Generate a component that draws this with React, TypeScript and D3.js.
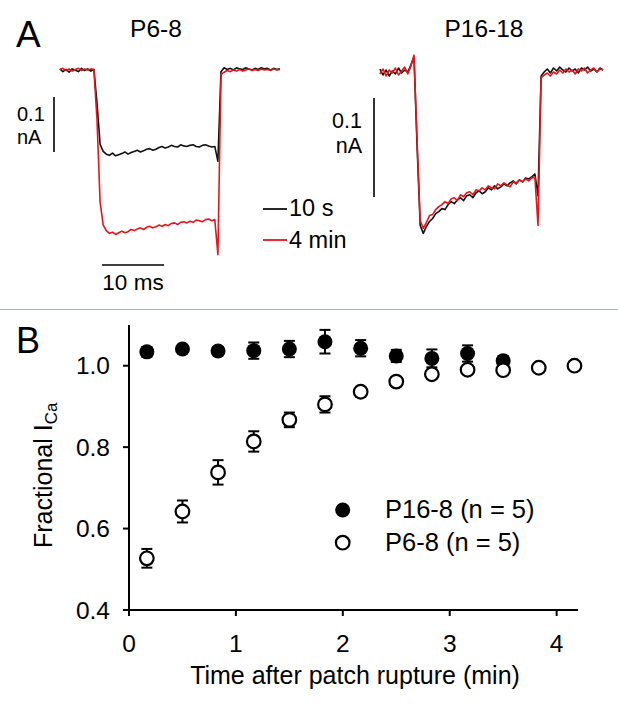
import React from "react";
import * as d3 from "d3";

// ---------- Panel A: current traces (nA), sampled every 0.5 ms ----------
const DT = 0.5;
const leftStart = -6;
const leftBlack = [
  0.002, -0.003, 0.001, -0.004, 0.002, 0.0, -0.003, 0.003, -0.001, 0.002, -0.002, 0.001,
  -0.06, -0.135,
  -0.148, -0.153, -0.155, -0.151, -0.156, -0.154, -0.152, -0.149, -0.153, -0.15, -0.148, -0.146,
  -0.149, -0.147, -0.144, -0.143, -0.146, -0.144, -0.141, -0.139, -0.142, -0.14, -0.137, -0.139,
  -0.14, -0.136, -0.138, -0.139, -0.137, -0.136, -0.139, -0.14, -0.137, -0.136, -0.138, -0.14, -0.139,
  -0.166, -0.003,
  0.004, 0.001, 0.003, 0.0, 0.004, 0.002, 0.001, 0.004, 0.002, 0.0, 0.003, 0.001, 0.004, 0.002,
  0.003, 0.0, 0.003, 0.001, 0.002,
];
const leftRed = [
  0.001, 0.003, -0.001, 0.002, -0.002, 0.001, 0.003, -0.001, 0.002, 0.0, 0.002, 0.001,
  -0.09, -0.24,
  -0.282, -0.292, -0.297, -0.295, -0.299, -0.296, -0.293, -0.296, -0.294, -0.29, -0.292, -0.289,
  -0.287, -0.29, -0.286, -0.284, -0.287, -0.285, -0.282, -0.284, -0.281, -0.283, -0.279, -0.278,
  -0.281, -0.277, -0.276, -0.278, -0.275, -0.277, -0.273, -0.274, -0.276, -0.272, -0.271, -0.274, -0.272,
  -0.336, -0.008,
  -0.004, -0.001, -0.003, 0.0, -0.002, 0.001, -0.002, 0.0, 0.002, -0.001, 0.001, -0.001, 0.002,
  0.0, 0.001, -0.001, 0.002, 0.0, 0.001,
];
const rightStart = -5.5;
const rightBlack = [
  0.003, -0.003, 0.002, -0.004, 0.001, -0.002, 0.004, -0.001, 0.002, 0.0, 0.007,
  0.015, -0.075, -0.155, -0.163,
  -0.156, -0.151, -0.148, -0.143, -0.141, -0.138, -0.139, -0.134, -0.131, -0.133, -0.129, -0.127,
  -0.13, -0.125, -0.124, -0.127, -0.122, -0.12, -0.123, -0.121, -0.117, -0.119, -0.115, -0.118,
  -0.116, -0.113, -0.115, -0.112, -0.11, -0.113, -0.109, -0.111, -0.107, -0.108, -0.106, -0.103,
  -0.125, -0.004,
  0.0, 0.003, -0.001, 0.004, 0.001, 0.005, 0.002, 0.0, 0.004, 0.001, 0.003, -0.001, 0.004, 0.002,
  0.005, 0.001, 0.003, 0.0, 0.004, 0.002,
];
const rightRed = [
  -0.002, 0.003, -0.004, 0.002, -0.001, 0.004, -0.003, 0.001, 0.005, -0.002, 0.006,
  0.017, -0.07, -0.15, -0.158,
  -0.152, -0.145, -0.144, -0.139, -0.136, -0.134, -0.131, -0.133, -0.128, -0.127, -0.13, -0.124,
  -0.126, -0.122, -0.121, -0.124, -0.119, -0.12, -0.117, -0.119, -0.115, -0.117, -0.118, -0.113,
  -0.115, -0.112, -0.114, -0.116, -0.111, -0.112, -0.109, -0.111, -0.108, -0.11, -0.107, -0.106,
  -0.155, -0.006,
  -0.003, -0.001, -0.004, 0.0, -0.002, 0.002, -0.001, 0.003, 0.0, 0.002, -0.002, 0.003, 0.001,
  0.004, -0.001, 0.002, 0.004, 0.0, 0.003, 0.002,
];
const panelTitles = ["P6-8", "P16-18"];
const traceLegend = ["10 s", "4 min"];
const traceColors = ["#111111", "#e8141c"];

// ---------- Panel B: fractional ICa vs time ----------
const p16Time = [0.167, 0.5, 0.833, 1.167, 1.5, 1.833, 2.167, 2.5, 2.833, 3.167, 3.5];
const p16Mean = [1.034, 1.041, 1.036, 1.037, 1.041, 1.059, 1.043, 1.024, 1.018, 1.03, 1.012];
const p16Err = [0.012, 0.01, 0.01, 0.02, 0.02, 0.029, 0.02, 0.015, 0.022, 0.02, 0.012];
const p6Time = [0.167, 0.5, 0.833, 1.167, 1.5, 1.833, 2.167, 2.5, 2.833, 3.167, 3.5, 3.833, 4.167];
const p6Mean = [0.527, 0.642, 0.738, 0.814, 0.867, 0.905, 0.936, 0.961, 0.979, 0.99, 0.989, 0.995, 1.0];
const p6Err = [0.023, 0.027, 0.03, 0.025, 0.018, 0.02, 0.012, 0.01, 0.01, 0.008, 0.008, 0.006, 0.005];
const xTicks = [0, 1, 2, 3, 4];
const yTicks = [0.4, 0.6, 0.8, 1.0];
const seriesLabels = ["P16-8 (n = 5)", "P6-8 (n = 5)"];

const FONT = "'Liberation Sans', Arial, Helvetica, sans-serif";

export default function App() {
  const W = 618;
  const H = 707;

  // Panel A scales
  const xL = d3.scaleLinear().domain([0, 10]).range([97, 159]);
  const yL = d3.scaleLinear().domain([0, -0.1]).range([70, 125]);
  const xR = d3.scaleLinear().domain([0, 10]).range([414, 476]);
  const yR = d3.scaleLinear().domain([0, -0.1]).range([72, 171]);

  const mkLine = (xs: d3.ScaleLinear<number, number>, ys: d3.ScaleLinear<number, number>, t0: number) =>
    d3
      .line<number>()
      .x((_, i) => xs(t0 + i * DT))
      .y((v) => ys(v));

  const lineL = mkLine(xL, yL, leftStart);
  const lineR = mkLine(xR, yR, rightStart);

  // Panel B scales
  const x = d3.scaleLinear().domain([0, 4.2]).range([129, 578]);
  const y = d3.scaleLinear().domain([0.4, 1.1]).range([610, 325]);

  const capW = 5.5;
  const errBar = (t: number, m: number, e: number, key: string) => (
    <g key={key} stroke="#000" strokeWidth={2} fill="none">
      <line x1={x(t)} x2={x(t)} y1={y(m + e)} y2={y(m - e)} />
      <line x1={x(t) - capW} x2={x(t) + capW} y1={y(m + e)} y2={y(m + e)} />
      <line x1={x(t) - capW} x2={x(t) + capW} y1={y(m - e)} y2={y(m - e)} />
    </g>
  );

  return (
    <svg
      width={W}
      height={H}
      style={{ position: "absolute", left: 0, top: 0, background: "#fff" }}
      fontFamily={FONT}
    >
      <rect x={0} y={0} width={W} height={H} fill="#fff" />

      {/* ---------------- Panel A ---------------- */}
      <text x={16} y={47} fontSize={37}>A</text>
      <text x={156} y={37} fontSize={24.5} textAnchor="middle">{panelTitles[0]}</text>
      <text x={484} y={37} fontSize={24.5} textAnchor="middle">{panelTitles[1]}</text>

      <path d={lineL(leftBlack) || ""} fill="none" stroke={traceColors[0]} strokeWidth={1.6} strokeLinejoin="round" />
      <path d={lineL(leftRed) || ""} fill="none" stroke={traceColors[1]} strokeWidth={1.6} strokeLinejoin="round" />
      <path d={lineR(rightBlack) || ""} fill="none" stroke={traceColors[0]} strokeWidth={1.6} strokeLinejoin="round" />
      <path d={lineR(rightRed) || ""} fill="none" stroke={traceColors[1]} strokeWidth={1.6} strokeLinejoin="round" />

      {/* scale bars */}
      <line x1={54} x2={54} y1={97} y2={97 + (yL(-0.1) - yL(0))} stroke="#000" strokeWidth={1.6} />
      <text x={17} y={121} fontSize={20}>0.1</text>
      <text x={17} y={144} fontSize={20}>nA</text>
      <line x1={102} x2={102 + (xL(10) - xL(0))} y1={265} y2={265} stroke="#000" strokeWidth={1.6} />
      <text x={133} y={290} fontSize={22.5} textAnchor="middle">10 ms</text>
      <line x1={374} x2={374} y1={98} y2={98 + (yR(-0.1) - yR(0))} stroke="#000" strokeWidth={1.6} />
      <text x={362} y={128} fontSize={21.5} textAnchor="end">0.1</text>
      <text x={362} y={153} fontSize={21.5} textAnchor="end">nA</text>

      {/* trace legend */}
      {traceLegend.map((lab, i) => (
        <g key={lab}>
          <line x1={263} x2={287} y1={209 + i * 31} y2={209 + i * 31} stroke={traceColors[i]} strokeWidth={1.8} />
          <text x={289} y={216 + i * 32} fontSize={23.5}>{lab}</text>
        </g>
      ))}

      {/* separator */}
      <line x1={0} x2={W} y1={309.5} y2={309.5} stroke="#a9b2bb" strokeWidth={1.2} />

      {/* ---------------- Panel B ---------------- */}
      <text x={16} y={353} fontSize={36}>B</text>

      {/* axes */}
      <line x1={x(0)} x2={x(0)} y1={y(1.1)} y2={y(0.4)} stroke="#000" strokeWidth={2} />
      <line x1={x(0)} x2={x(4.2)} y1={y(0.4)} y2={y(0.4)} stroke="#000" strokeWidth={2} />
      {yTicks.map((v) => (
        <g key={"y" + v}>
          <line x1={x(0) - 6} x2={x(0)} y1={y(v)} y2={y(v)} stroke="#000" strokeWidth={2} />
          <text x={110} y={y(v) + 8.5} fontSize={24.5} textAnchor="end">{v.toFixed(1)}</text>
        </g>
      ))}
      {xTicks.map((v) => (
        <g key={"x" + v}>
          <line x1={x(v)} x2={x(v)} y1={y(0.4)} y2={y(0.4) + 6} stroke="#000" strokeWidth={2} />
          <text x={x(v)} y={652} fontSize={24.5} textAnchor="middle">{v}</text>
        </g>
      ))}
      <text x={355} y={684} fontSize={25} textAnchor="middle">Time after patch rupture (min)</text>
      <text transform="translate(52,548) rotate(-90)" fontSize={25}>
        Fractional I<tspan fontSize={17} dy={5}>Ca</tspan>
      </text>

      {/* P16-8 filled */}
      {p16Time.map((t, i) => errBar(t, p16Mean[i], p16Err[i], "fe" + i))}
      {p16Time.map((t, i) => (
        <circle key={"fc" + i} cx={x(t)} cy={y(p16Mean[i])} r={7.5} fill="#000" />
      ))}
      {/* P6-8 open */}
      {p6Time.map((t, i) => errBar(t, p6Mean[i], p6Err[i], "oe" + i))}
      {p6Time.map((t, i) => (
        <circle key={"oc" + i} cx={x(t)} cy={y(p6Mean[i])} r={6.8} fill="#fff" stroke="#000" strokeWidth={2.2} />
      ))}

      {/* legend */}
      <circle cx={342.7} cy={510} r={7.5} fill="#000" />
      <text x={385} y={518} fontSize={25.5}>{seriesLabels[0]}</text>
      <circle cx={342.7} cy={542.7} r={6.8} fill="#fff" stroke="#000" strokeWidth={2.2} />
      <text x={385} y={551} fontSize={25.5}>{seriesLabels[1]}</text>
    </svg>
  );
}
